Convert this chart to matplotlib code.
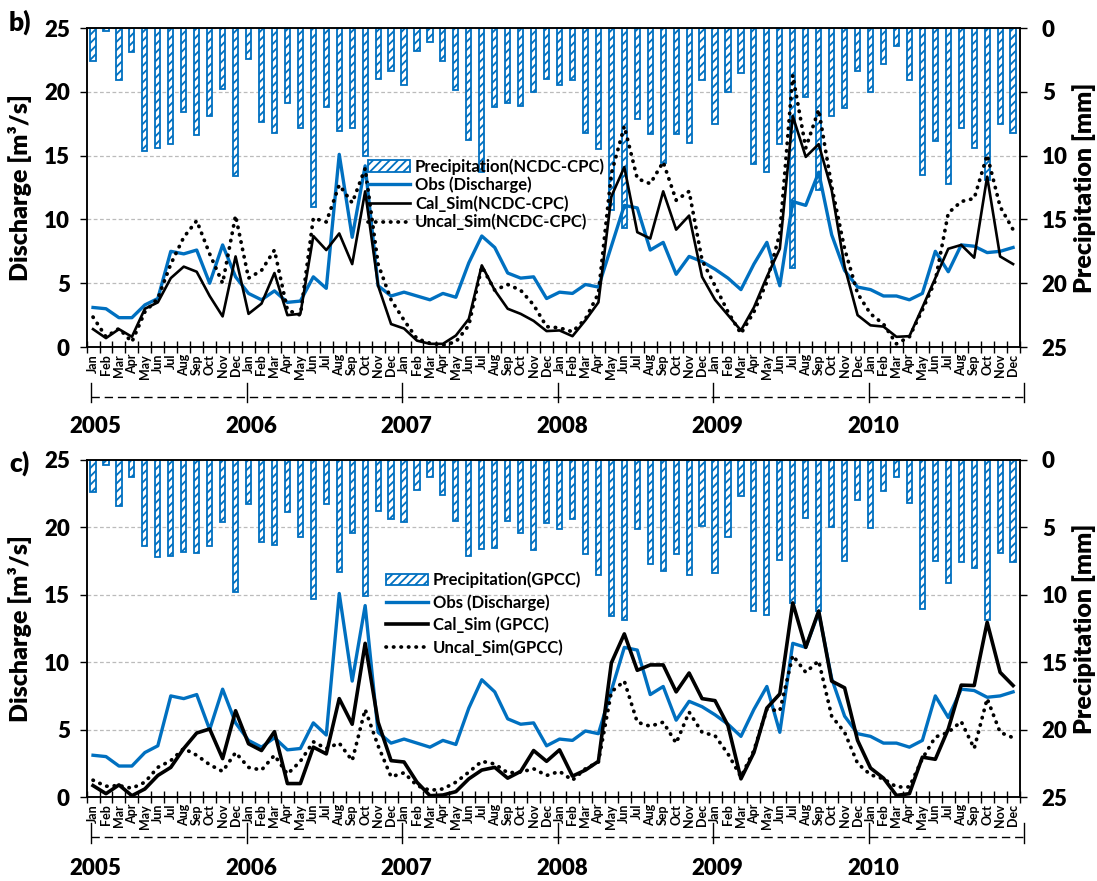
import numpy as np
import matplotlib.pyplot as plt
import matplotlib.transforms as mtransforms
from matplotlib.lines import Line2D
from matplotlib.patches import Patch

plt.rcParams['font.family'] = ['Lato', 'DejaVu Sans']
plt.rcParams['font.weight'] = 'heavy'
plt.rcParams['axes.labelweight'] = 'heavy'
plt.rcParams['hatch.linewidth'] = 1.3

# Datos mensuales 2005-2010
meses = ["Jan", "Feb", "Mar", "Apr", "May", "Jun", "Jul", "Aug", "Sep", "Oct", "Nov", "Dec"]
anios = ["2005", "2006", "2007", "2008", "2009", "2010"]

obs = [3.1, 3.0, 2.3, 2.3, 3.3, 3.8, 7.5, 7.3, 7.6, 5.0, 8.0, 5.5,
       4.2, 3.7, 4.4, 3.5, 3.6, 5.5, 4.6, 15.1, 8.6, 14.2, 4.8, 4.0,
       4.3, 4.0, 3.7, 4.2, 3.9, 6.6, 8.7, 7.8, 5.8, 5.4, 5.5, 3.8,
       4.3, 4.2, 4.9, 4.7, 7.9, 11.1, 10.9, 7.6, 8.2, 5.7, 7.1, 6.7,
       6.1, 5.4, 4.5, 6.5, 8.2, 4.8, 11.4, 11.1, 13.7, 8.8, 6.0, 4.7,
       4.5, 4.0, 4.0, 3.7, 4.2, 7.5, 5.9, 8.0, 7.9, 7.4, 7.5, 7.8]

cal_ncdc = [1.4, 0.7, 1.4, 0.8, 3.0, 3.5, 5.4, 6.3, 5.9, 4.0, 2.4, 7.1,
            2.6, 3.4, 5.8, 2.5, 2.6, 8.7, 7.6, 8.9, 6.5, 12.2, 4.8, 1.8,
            1.45, 0.5, 0.25, 0.25, 0.9, 2.2, 6.4, 4.45, 3.0, 2.6, 2.05, 1.25,
            1.3, 0.85, 2.1, 3.5, 11.8, 14.1, 9.0, 8.5, 12.2, 9.2, 10.3, 5.5,
            3.7, 2.5, 1.3, 3.1, 5.5, 7.7, 18.1, 14.9, 15.9, 12.3, 6.3, 2.5,
            1.7, 1.6, 0.8, 0.85, 3.1, 5.4, 7.7, 8.0, 7.0, 13.35, 7.1, 6.5]

uncal_ncdc = [2.35, 0.8, 1.45, 0.4, 2.75, 3.8, 6.5, 8.6, 9.9, 7.3, 5.0, 10.3,
              5.4, 6.0, 7.6, 2.9, 2.5, 10.1, 9.8, 12.7, 11.3, 14.0, 6.5, 3.7,
              2.1, 0.65, 0.3, 0.15, 0.4, 1.7, 6.3, 4.45, 4.9, 4.45, 3.3, 1.6,
              1.5, 1.2, 2.2, 4.2, 13.6, 17.3, 13.2, 12.8, 14.5, 11.5, 12.2, 6.8,
              4.8, 2.75, 1.05, 2.75, 5.1, 8.9, 21.3, 15.6, 18.6, 12.6, 7.7, 4.2,
              2.6, 1.8, 0.25, 0.8, 2.9, 5.2, 10.5, 11.4, 11.65, 15.05, 11.0, 9.2]

prec_ncdc = [2.6, 0.26, 4.06, 1.9, 9.6, 9.4, 9.1, 6.6, 8.4, 6.9, 4.8, 11.6,
             2.4, 7.4, 8.2, 5.9, 7.8, 14.0, 6.2, 8.1, 7.85, 10.0, 4.0, 3.35,
             4.5, 1.8, 1.1, 2.6, 4.85, 8.8, 11.3, 6.2, 5.9, 6.1, 5.0, 4.0,
             4.5, 4.06, 8.2, 9.5, 14.3, 15.7, 7.1, 8.3, 10.6, 8.3, 9.0, 4.1,
             7.5, 5.0, 3.5, 10.65, 11.3, 9.1, 18.8, 5.4, 12.7, 6.9, 6.3, 3.4,
             5.0, 2.8, 1.4, 4.1, 11.5, 8.85, 12.2, 7.85, 9.4, 11.9, 7.5, 8.25]

cal_gpcc = [0.85, 0.25, 0.9, 0.1, 0.6, 1.6, 2.2, 3.6, 4.75, 5.05, 2.85, 6.4,
            3.95, 3.45, 4.85, 1.0, 1.0, 3.7, 3.2, 7.3, 5.4, 11.4, 5.55, 2.7,
            2.6, 1.1, 0.1, 0.15, 0.4, 1.35, 2.0, 2.2, 1.4, 1.9, 3.45, 2.65,
            3.5, 1.55, 2.0, 2.65, 9.95, 12.1, 9.4, 9.8, 9.8, 7.8, 9.2, 7.3,
            7.15, 5.3, 1.35, 3.3, 6.6, 7.65, 14.4, 11.1, 13.8, 8.6, 8.1, 4.2,
            2.15, 1.4, 0.12, 0.25, 2.96, 2.8, 5.05, 8.3, 8.27, 12.96, 9.25, 8.27]

uncal_gpcc = [1.25, 0.8, 0.85, 0.65, 1.1, 2.2, 2.7, 3.6, 3.1, 2.4, 1.9, 3.3,
              2.2, 2.0, 3.1, 1.7, 2.65, 4.1, 3.6, 4.0, 2.7, 6.5, 3.8, 1.5,
              1.8, 0.85, 0.5, 0.6, 1.1, 1.85, 2.65, 2.45, 1.8, 1.85, 2.1, 1.6,
              1.9, 1.25, 2.1, 2.6, 7.8, 8.6, 5.55, 5.25, 5.55, 4.0, 6.3, 4.8,
              4.55, 3.2, 1.5, 3.45, 6.5, 6.4, 10.5, 9.25, 10.1, 6.0, 4.8, 2.5,
              1.65, 1.35, 0.75, 0.75, 2.85, 4.45, 4.8, 5.6, 3.6, 7.3, 4.8, 4.4]

prec_gpcc = [2.4, 0.4, 3.45, 1.3, 6.4, 7.2, 7.1, 6.8, 6.9, 6.4, 4.6, 9.8,
             3.3, 6.05, 6.3, 3.85, 5.7, 10.3, 3.3, 8.3, 5.4, 10.1, 3.8, 4.4,
             4.6, 2.25, 1.3, 2.6, 4.5, 7.1, 6.6, 6.5, 4.5, 5.4, 6.7, 4.7,
             5.1, 4.4, 7.0, 8.5, 11.6, 11.9, 5.1, 7.7, 8.2, 7.0, 8.5, 4.9,
             8.4, 5.7, 2.65, 11.2, 11.5, 7.4, 10.6, 4.3, 11.2, 4.96, 7.5, 2.96,
             5.06, 2.3, 1.23, 3.2, 11.06, 7.5, 9.1, 7.6, 8.0, 11.85, 6.9, 7.6]

AZUL = "#0070C0"
x = np.arange(len(obs))

fig = plt.figure(figsize=(10.97, 8.81), dpi=100)


def panel(rect, prec, cal, uncal, letra, letra_y, cal_lw, y_linea, y_sep, y_anio):
    ax = fig.add_axes(rect)
    ax2 = ax.twinx()

    # barras de precipitacion (eje derecho invertido)
    ax2.bar(x, prec, width=0.4, color="white", edgecolor=AZUL, hatch="////", linewidth=1.3)
    ax2.set_ylim(25, 0)
    ax2.set_yticks(range(0, 26, 5))
    ax2.set_axisbelow(True)
    ax2.grid(axis="y", color="#BBBBBB", linestyle=(0, (3, 2)), linewidth=0.9)
    ax2.tick_params(axis="y", direction="out", length=5, width=1, labelsize=16, pad=11)
    ax2.set_ylabel("Precipitation [mm]", fontsize=18)
    ax2.yaxis.set_label_coords(1.056, 0.5)

    ax.set_zorder(ax2.get_zorder() + 1)
    ax.patch.set_visible(False)
    ax.plot(x, obs, color=AZUL, lw=2.4)
    ax.plot(x, cal, color="black", lw=cal_lw)
    ax.plot(x, uncal, color="black", lw=2.7, linestyle=(0, (0.1, 1.9)), dash_capstyle="round")

    ax.set_xlim(-0.5, 71.5)
    ax.set_ylim(0, 25)
    ax.set_yticks(range(0, 26, 5))
    ax.tick_params(axis="y", direction="out", length=5, width=1, labelsize=16, pad=7)
    ax.set_ylabel("Discharge [m³/s]", fontsize=18)
    ax.yaxis.set_label_coords(-0.058, 0.5)

    ax.set_xticks(x)
    ax.set_xticklabels(meses * 6, rotation=90, fontsize=9, fontweight="bold")
    ax.set_xticks(np.arange(-0.5, 72, 1), minor=True)
    ax.tick_params(axis="x", which="major", length=0, pad=5)
    ax.tick_params(axis="x", which="minor", direction="inout", length=8, width=1)
    for sp in list(ax.spines.values()) + list(ax2.spines.values()):
        sp.set_color("black")
        sp.set_linewidth(1.1)

    # eje de anios
    tr = mtransforms.blended_transform_factory(ax.transData, ax.transAxes)
    ax.plot([-0.15, 71.85], [y_linea, y_linea], transform=tr, color="black", lw=1,
            linestyle=(0, (6, 3.5)), clip_on=False)
    for k in range(7):
        xs = 12 * k - 0.15
        ax.plot([xs, xs], y_sep, transform=tr, color="black", lw=1, clip_on=False)
    for k, a in enumerate(anios):
        ax.text(12 * k + 0.2, y_anio, a, transform=tr, ha="center", va="center", fontsize=16)

    fig.text(9 / 1097, letra_y, letra, fontsize=19, ha="left", va="center")

    handles = [Patch(facecolor="white", edgecolor=AZUL, hatch="////", linewidth=1.3),
               Line2D([], [], color=AZUL, lw=2.4),
               Line2D([], [], color="black", lw=cal_lw),
               Line2D([], [], color="black", lw=2.7, linestyle=(0, (0.1, 1.9)), dash_capstyle="round")]
    return ax, handles


ax_b, h_b = panel([0.0789, 0.6061, 0.8505, 0.3621], prec_ncdc, cal_ncdc, uncal_ncdc,
                  "b)", 1 - 22 / 881, 1.9, -0.157, [-0.113, -0.172], -0.25)
ax_b.legend(h_b, ["Precipitation(NCDC-CPC)", "Obs (Discharge)", "Cal_Sim(NCDC-CPC)", "Uncal_Sim(NCDC-CPC)"],
            loc="upper left", bbox_to_anchor=(0.302, 0.592), frameon=False,
            prop={"size": 12, "weight": "bold"},
            handlelength=2.5, handletextpad=0.3, labelspacing=0.12, borderpad=0, borderaxespad=0)

ax_c, h_c = panel([0.0789, 0.0953, 0.8505, 0.3826], prec_gpcc, cal_gpcc, uncal_gpcc,
                  "c)", 1 - 463 / 881, 2.6, -0.118, [-0.078, -0.137], -0.213)
ax_c.legend(h_c, ["Precipitation(GPCC)", "Obs (Discharge)", "Cal_Sim (GPCC)", "Uncal_Sim(GPCC)"],
            loc="upper left", bbox_to_anchor=(0.321, 0.668), frameon=False,
            prop={"size": 12, "weight": "bold"},
            handlelength=2.5, handletextpad=0.3, labelspacing=0.35, borderpad=0, borderaxespad=0)

plt.savefig("out.png", dpi=100)
